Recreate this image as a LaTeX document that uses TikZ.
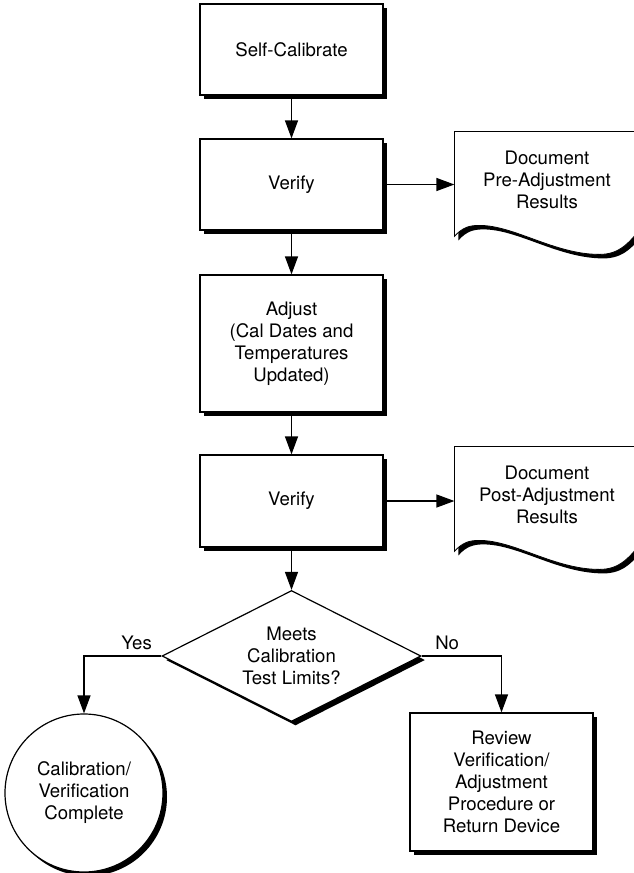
\documentclass[tikz,border=0pt]{standalone}
\usepackage{fontspec}
\setmainfont{TeX Gyre Heros}
\usetikzlibrary{arrows.meta, positioning, shapes.geometric, shadows, backgrounds}
\def\mainx{291.5}

\begin{document}
\begin{tikzpicture}[x=0.5pt, y=-0.5pt, line width=0.6pt, >={Triangle[length=9pt,width=6.5pt]}]
    \tikzstyle{every node}=[font=\fontsize{9.3}{11}\selectfont, align=center, inner sep=0pt]
    \tikzstyle{solid shadow}=[drop shadow={fill=black, opacity=1, shadow xshift=2pt, shadow yshift=-2pt}]
    \tikzstyle{process}=[rectangle, draw, fill=white, minimum width=91.5pt, solid shadow]
    \tikzstyle{decision}=[diamond, aspect=2, draw, fill=white, minimum width=129.5pt, minimum height=65.5pt, solid shadow]
    \tikzstyle{terminal}=[circle, draw, fill=white, minimum size=79pt, solid shadow]
    \tikzstyle{report}=[minimum width=92pt, minimum height=48pt]
    \tikzstyle{answer}=[above, inner sep=3pt]

    \useasboundingbox (0,0) rectangle (633,873);

    % Draw the process boxes down the middle
    \foreach \name / \y / \h / \txt in {selfcal/49.5/45.5/Self-Calibrate, verify1/184.5/45.5/Verify,
            adjust/343.5/68.5/{Adjust\\(Cal Dates and\\Temperatures\\Updated)}, verify2/501/46/Verify}
        \node[process, minimum height=\h pt] (\name) at (\mainx,\y) {\txt};

    % Draw the decision and the two outcomes
    \node[decision] (decide) at (\mainx,656) {Meets\\Calibration\\Test Limits?};
    \node[terminal] (done) at (84,793) {Calibration/\\Verification\\Complete};
    \node[process, minimum height=69pt] (review) at (501.5,782) {Review\\Verification/\\Adjustment\\Procedure or\\Return Device};

    % Draw the document nodes
    \node[report] (doc1) at (547,180) {Document\\Pre-Adjustment\\Results};
    \node[report] (doc2) at (547,495) {Document\\Post-Adjustment\\Results};

    % Document outlines with the wavy bottom edge
    \begin{scope}[on background layer]
        \foreach \doc in {doc1,doc2}
            \draw[fill=white, solid shadow, shift={(\doc.north west)}]
                (190,0) -- (0,0) -- (0,105)
                .. controls (8,96) and (15,94) .. (25,94)
                .. controls (60,94) and (100,123) .. (145,123)
                .. controls (165,123) and (175,112) .. (190,92) -- cycle;
    \end{scope}

    % Connect the steps of the main column
    \foreach \source / \dest in {selfcal/verify1, verify1/adjust, adjust/verify2, verify2/decide}
        \draw[->] (\source) -- (\dest);

    % Connect each verify step with its document
    \foreach \source / \dest in {verify1/doc1, verify2/doc2}
        \draw[->] (\source) -- (\source -| \dest.west);

    % Connect the decision with its outcomes
    \draw[->] (decide.west) -| node[answer, pos=0.16] {Yes} (done);
    \draw[->] (decide.east) -| node[answer, pos=0.16] {No} (review);
\end{tikzpicture}
\end{document}
